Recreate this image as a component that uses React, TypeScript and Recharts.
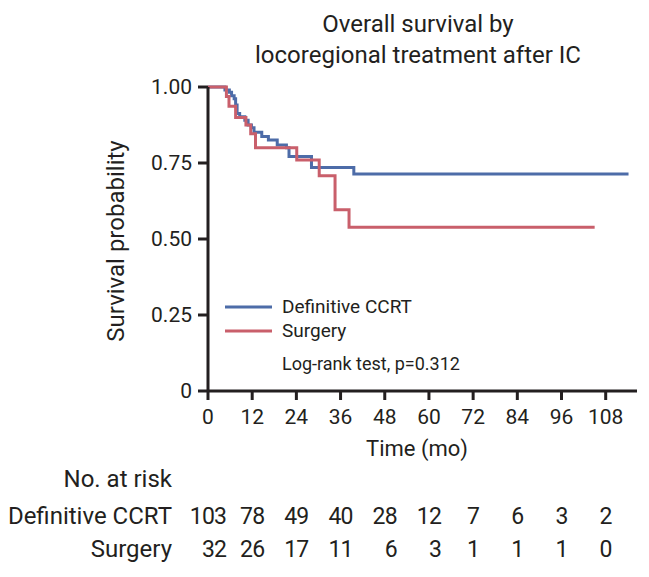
import React from "react";
import { LineChart, Line, XAxis, YAxis } from "recharts";

const TITLE = ["Overall survival by", "locoregional treatment after IC"];

const TIME_TICKS = [0, 12, 24, 36, 48, 60, 72, 84, 96, 108];
const PROB_TICKS = [0, 0.25, 0.5, 0.75, 1];

// Kaplan-Meier steps (months, survival)
const CCRT_TIME = [0, 4.6, 5.8, 6.4, 7.1, 7.5, 7.9, 8.6, 10.0, 10.9, 11.8, 12.5, 14.6, 16.4, 18.8, 21.3, 22.0, 28.1, 39.6, 114.2];
const CCRT_SURV = [1, 0.99, 0.983, 0.971, 0.961, 0.941, 0.913, 0.902, 0.891, 0.875, 0.866, 0.851, 0.837, 0.826, 0.809, 0.8, 0.771, 0.735, 0.714, 0.714];

const SURG_TIME = [0, 5.0, 5.7, 7.5, 10.3, 11.6, 12.9, 24.1, 30.2, 34.5, 38.3, 105];
const SURG_SURV = [1, 0.969, 0.937, 0.9, 0.875, 0.846, 0.8, 0.76, 0.708, 0.596, 0.539, 0.539];

const RISK_CCRT = [103, 78, 49, 40, 28, 12, 7, 6, 3, 2];
const RISK_SURG = [32, 26, 17, 11, 6, 3, 1, 1, 1, 0];

const ccrtData = CCRT_TIME.map((t, i) => ({ t, s: CCRT_SURV[i] }));
const surgData = SURG_TIME.map((t, i) => ({ t, s: SURG_SURV[i] }));

const INK = "#231f20";
const BLUE = "#4d6ca8";
const RED = "#c95f6b";
const FONT = "Roboto, 'Noto Sans', sans-serif";
const DIGIT_W = 12.1;

function TimeTick(props: any) {
  const { x, y, payload } = props;
  const i = TIME_TICKS.indexOf(payload.value);
  const right = x + (String(RISK_CCRT[i]).length * DIGIT_W) / 2;
  return (
    <g fontFamily={FONT} fill={INK}>
      <text x={x} y={y + 22} textAnchor="middle" fontSize={21}>
        {payload.value}
      </text>
      <text x={right} y={y + 122} textAnchor="end" fontSize={23} letterSpacing={-0.8}>
        {RISK_CCRT[i]}
      </text>
      <text x={right} y={y + 155} textAnchor="end" fontSize={23} letterSpacing={-0.8}>
        {RISK_SURG[i]}
      </text>
    </g>
  );
}

export default function App() {
  return (
    <div style={{ position: "absolute", left: 0, top: 0, width: 649, height: 577, background: "#fff" }}>
      <LineChart width={649} height={577} margin={{ top: 87, right: 12, bottom: 0, left: 0 }}>
        <XAxis
          type="number"
          dataKey="t"
          domain={[0, 116.5]}
          ticks={TIME_TICKS}
          interval={0}
          height={186}
          tickSize={9}
          axisLine={{ stroke: INK, strokeWidth: 3 }}
          tickLine={{ stroke: INK, strokeWidth: 3 }}
          tick={<TimeTick />}
        />
        <YAxis
          type="number"
          domain={[0, 1]}
          ticks={PROB_TICKS}
          width={208}
          tickSize={10}
          tickMargin={6}
          tickFormatter={(v: number) => (v === 0 ? "0" : v.toFixed(2))}
          axisLine={{ stroke: INK, strokeWidth: 3 }}
          tickLine={{ stroke: INK, strokeWidth: 3 }}
          tick={{ fontFamily: FONT, fontSize: 21, fill: INK }}
        />
        <Line
          data={ccrtData}
          dataKey="s"
          type="stepAfter"
          stroke={BLUE}
          strokeWidth={3}
          dot={false}
          isAnimationActive={false}
        />
        <Line
          data={surgData}
          dataKey="s"
          type="stepAfter"
          stroke={RED}
          strokeWidth={3}
          dot={false}
          isAnimationActive={false}
        />
      </LineChart>
      <svg
        width={649}
        height={577}
        style={{ position: "absolute", left: 0, top: 0, pointerEvents: "none" }}
      >
        <g fontFamily={FONT} fill={INK}>
          <text x={418} y={32} textAnchor="middle" fontSize={24}>{TITLE[0]}</text>
          <text x={418} y={63} textAnchor="middle" fontSize={24}>{TITLE[1]}</text>
          <text x={124} y={241} textAnchor="middle" fontSize={24} transform="rotate(-90 124 241)">
            Survival probability
          </text>
          <text x={417} y={456} textAnchor="middle" fontSize={22}>Time (mo)</text>
          <line x1={225} x2={272} y1={307} y2={307} stroke={BLUE} strokeWidth={3} />
          <line x1={225} x2={272} y1={331} y2={331} stroke={RED} strokeWidth={3} />
          <text x={282} y={313} fontSize={19}>Definitive CCRT</text>
          <text x={282} y={337} fontSize={19}>Surgery</text>
          <text x={282} y={370} fontSize={18}>Log-rank test, p=0.312</text>
        </g>
        <g fontFamily={FONT} fontSize={24} fill={INK} textAnchor="end">
          <text x={172} y={487}>No. at risk</text>
          <text x={172} y={524}>Definitive CCRT</text>
          <text x={172} y={557}>Surgery</text>
        </g>
      </svg>
    </div>
  );
}
